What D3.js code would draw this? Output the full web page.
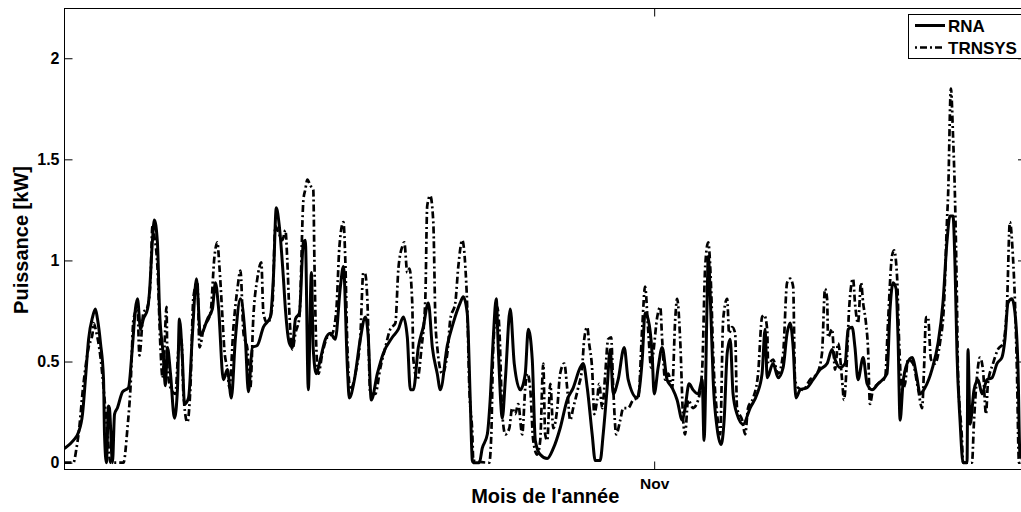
<!DOCTYPE html>
<html><head><meta charset="utf-8">
<script src="https://cdn.jsdelivr.net/npm/d3@7"></script>
<style>body{margin:0;background:#fff;overflow:hidden}</style>
</head><body><svg id="c" width="1021" height="512"></svg>
<script>
// [day since start of record, power in kW]
const rna = [[0,0.07],[0.47,0.11],[0.74,0.15],[0.95,0.24],[1.11,0.42],[1.27,0.61],[1.48,0.72],[1.63,0.76],[1.74,0.71],[1.90,0.59],[2.06,0.41],[2.11,0.14],[2.21,0],[2.32,0.28],[2.37,0.27],[2.53,0],[2.64,0.24],[2.79,0.27],[3.06,0.35],[3.37,0.37],[3.58,0.57],[3.74,0.76],[3.85,0.81],[4.01,0.66],[4.16,0.71],[4.38,0.76],[4.48,0.84],[4.64,1.10],[4.74,1.20],[4.90,1.09],[5.01,0.76],[5.22,0.52],[5.32,0.38],[5.43,0.57],[5.59,0.44],[5.80,0.22],[5.96,0.37],[6.06,0.71],[6.22,0.51],[6.33,0.29],[6.54,0.32],[6.75,0.64],[6.96,0.91],[7.17,0.63],[7.54,0.71],[7.80,0.76],[7.96,0.89],[8.12,0.77],[8.38,0.41],[8.59,0.46],[8.80,0.32],[9.01,0.61],[9.28,0.81],[9.54,0.61],[9.70,0.35],[9.91,0.57],[10.17,0.58],[10.49,0.67],[10.86,0.72],[11.02,0.92],[11.17,1.26],[11.33,1.17],[11.54,0.92],[11.65,0.76],[11.86,0.59],[12.02,0.57],[12.18,0.71],[12.39,0.74],[12.60,1.09],[12.70,1.10],[12.86,0.36],[13.02,0.94],[13.12,0.56],[13.28,0.44],[13.49,0.51],[13.76,0.61],[14.02,0.64],[14.28,0.61],[14.55,0.87],[14.71,0.97],[14.92,0.47],[15.02,0.32],[15.29,0.41],[15.60,0.61],[15.87,0.72],[16.02,0.62],[16.18,0.31],[16.50,0.44],[16.81,0.54],[17.29,0.62],[17.61,0.66],[17.87,0.72],[18.08,0.62],[18.24,0.36],[18.40,0.36],[18.66,0.57],[18.92,0.67],[19.19,0.79],[19.40,0.57],[19.66,0.44],[19.82,0.36],[20.19,0.58],[20.50,0.69],[20.87,0.79],[21.03,0.82],[21.24,0.74],[21.40,0.31],[21.51,0.01],[21.56,0],[21.88,0],[22.03,0.07],[22.30,0.14],[22.45,0.31],[22.61,0.61],[22.77,0.81],[22.88,0.56],[23.09,0.22],[23.25,0.41],[23.51,0.76],[23.72,0.49],[24.04,0.36],[24.30,0.44],[24.46,0.66],[24.67,0.51],[24.83,0.11],[25.09,0.04],[25.46,0.02],[25.78,0.07],[26.14,0.17],[26.51,0.31],[26.83,0.37],[27.20,0.47],[27.36,0.49],[27.57,0.37],[27.83,0.14],[27.99,0.01],[28.25,0.01],[28.41,0.14],[28.62,0.37],[28.78,0.56],[28.94,0.34],[29.20,0.41],[29.52,0.57],[29.73,0.41],[30.20,0.32],[30.47,0.51],[30.62,0.74],[30.78,0.71],[30.99,0.54],[31.10,0.34],[31.31,0.47],[31.52,0.57],[31.78,0.41],[32.05,0.37],[32.31,0.31],[32.58,0.21],[32.73,0.27],[32.94,0.39],[33.15,0.36],[33.42,0.34],[33.63,0.41],[33.73,0.11],[33.89,0.79],[33.95,1.02],[34.10,0.71],[34.21,0.41],[34.42,0.17],[34.63,0.09],[34.79,0.21],[34.95,0.54],[35.11,0.61],[35.26,0.34],[35.47,0.24],[35.79,0.19],[36.16,0.27],[36.53,0.34],[36.79,0.44],[36.95,0.66],[37.06,0.42],[37.37,0.49],[37.64,0.42],[37.90,0.47],[38.11,0.64],[38.27,0.69],[38.43,0.57],[38.58,0.32],[38.80,0.36],[39.16,0.37],[39.48,0.41],[39.85,0.46],[40.22,0.49],[40.48,0.56],[40.64,0.51],[40.90,0.47],[41.17,0.49],[41.33,0.66],[41.54,0.67],[41.69,0.57],[41.85,0.41],[42.12,0.52],[42.33,0.39],[42.59,0.36],[42.91,0.39],[43.38,0.44],[43.54,0.76],[43.70,0.89],[43.86,0.86],[43.96,0.62],[44.07,0.21],[44.22,0.39],[44.44,0.49],[44.70,0.52],[44.96,0.42],[45.12,0.34],[45.38,0.37],[45.75,0.46],[46.07,0.59],[46.33,0.79],[46.54,1.09],[46.70,1.22],[46.86,1.22],[46.97,0.96],[47.07,0.54],[47.23,0.21],[47.39,0],[47.60,0],[47.65,0.56],[47.76,0.19],[47.97,0.36],[48.18,0.41],[48.39,0.34],[48.65,0.41],[48.92,0.42],[49.18,0.49],[49.44,0.52],[49.60,0.61],[49.76,0.79],[49.97,0.81],[50.13,0.74],[50.29,0.46],[50.39,0.04],[50.71,0]];

const trnsys = [[0,0],[0.47,0],[0.63,0.07],[0.74,0.14],[1.00,0.39],[1.27,0.57],[1.48,0.64],[1.53,0.69],[1.69,0.64],[1.90,0.52],[2.06,0.37],[2.27,0.14],[2.42,0],[3.11,0],[3.32,0.17],[3.48,0.37],[3.64,0.71],[3.85,0.76],[3.95,0.53],[4.16,0.74],[4.38,0.77],[4.53,0.89],[4.64,1.17],[4.74,1.12],[4.90,0.97],[5.06,0.57],[5.17,0.42],[5.27,0.57],[5.38,0.77],[5.43,0.47],[5.59,0.37],[5.85,0.34],[6.01,0.56],[6.17,0.61],[6.27,0.34],[6.48,0.20],[6.64,0.37],[6.80,0.82],[7.01,0.89],[7.12,0.57],[7.33,0.66],[7.70,0.74],[7.91,1.02],[8.06,1.09],[8.17,0.97],[8.33,0.72],[8.43,0.56],[8.59,0.46],[8.70,0.37],[8.91,0.67],[9.12,0.86],[9.28,0.95],[9.44,0.64],[9.65,0.56],[9.80,0.37],[9.96,0.72],[10.17,0.91],[10.38,0.99],[10.49,0.74],[10.70,0.69],[10.96,0.77],[11.12,1.17],[11.28,1.14],[11.49,1.10],[11.65,1.15],[11.75,1.00],[11.86,0.74],[12.02,0.56],[12.18,0.64],[12.39,0.72],[12.60,1.30],[12.70,1.35],[12.81,1.40],[12.97,1.37],[13.12,1.35],[13.18,1.00],[13.28,0.57],[13.39,0.44],[13.60,0.54],[13.86,0.62],[14.13,0.64],[14.34,0.76],[14.50,1.07],[14.71,1.19],[14.81,1.00],[14.92,0.57],[15.08,0.36],[15.34,0.44],[15.60,0.62],[15.76,0.94],[15.87,0.93],[15.97,0.81],[16.13,0.34],[16.39,0.34],[16.66,0.47],[16.92,0.57],[17.18,0.66],[17.45,0.69],[17.61,0.96],[17.82,1.07],[17.92,1.09],[18.08,0.94],[18.19,0.96],[18.34,0.79],[18.40,0.51],[18.61,0.41],[18.82,0.56],[19.03,0.81],[19.13,1.27],[19.29,1.32],[19.45,1.19],[19.56,0.71],[19.66,0.57],[19.92,0.44],[20.19,0.54],[20.35,0.71],[20.61,0.79],[20.77,0.97],[20.98,1.10],[21.14,0.97],[21.24,0.77],[21.35,0.37],[21.51,0.14],[21.56,0.01],[22.40,0],[22.51,0.14],[22.61,0.56],[22.82,0.77],[22.93,0.67],[23.09,0.24],[23.25,0.14],[23.46,0.17],[23.61,0.27],[23.77,0.24],[23.93,0.29],[24.14,0.14],[24.30,0.37],[24.41,0.44],[24.56,0.37],[24.72,0.11],[24.93,0.04],[25.09,0.11],[25.25,0.49],[25.35,0.14],[25.46,0.11],[25.62,0.39],[25.78,0.17],[25.99,0.27],[26.14,0.44],[26.36,0.49],[26.51,0.37],[26.67,0.21],[26.83,0.27],[27.09,0.37],[27.30,0.47],[27.41,0.61],[27.57,0.67],[27.67,0.59],[27.83,0.46],[27.94,0.24],[28.09,0.31],[28.20,0.39],[28.36,0.27],[28.52,0.44],[28.67,0.61],[28.83,0.62],[28.94,0.37],[29.10,0.14],[29.31,0.21],[29.47,0.27],[29.73,0.27],[29.99,0.31],[30.26,0.32],[30.47,0.67],[30.62,0.87],[30.78,0.66],[30.94,0.47],[31.05,0.54],[31.26,0.72],[31.42,0.77],[31.52,0.61],[31.68,0.41],[31.84,0.44],[32.05,0.37],[32.21,0.71],[32.31,0.81],[32.47,0.61],[32.63,0.21],[32.73,0.14],[32.89,0.31],[33.15,0.27],[33.42,0.31],[33.63,0.46],[33.79,0.97],[33.95,1.09],[34.10,0.87],[34.21,0.54],[34.42,0.24],[34.58,0.14],[34.74,0.71],[34.95,0.81],[35.05,0.64],[35.21,0.67],[35.37,0.64],[35.47,0.27],[35.74,0.21],[35.90,0.14],[36.05,0.27],[36.32,0.32],[36.58,0.44],[36.79,0.72],[36.90,0.73],[37.06,0.66],[37.11,0.49],[37.37,0.51],[37.64,0.44],[37.90,0.54],[38.11,0.89],[38.27,0.91],[38.43,0.87],[38.53,0.41],[38.69,0.37],[38.95,0.36],[39.32,0.41],[39.69,0.44],[39.95,0.54],[40.11,0.86],[40.22,0.81],[40.27,0.62],[40.48,0.66],[40.64,0.46],[40.80,0.59],[41.01,0.41],[41.11,0.31],[41.27,0.52],[41.38,0.76],[41.59,0.91],[41.69,0.79],[41.85,0.69],[42.01,0.89],[42.12,0.79],[42.27,0.69],[42.38,0.56],[42.48,0.29],[42.64,0.36],[42.91,0.39],[43.28,0.42],[43.43,0.69],[43.64,1.02],[43.75,1.05],[43.91,0.92],[44.01,0.62],[44.17,0.36],[44.33,0.39],[44.49,0.51],[44.75,0.49],[45.01,0.37],[45.23,0.27],[45.33,0.46],[45.44,0.72],[45.54,0.72],[45.70,0.51],[45.91,0.49],[46.17,0.59],[46.39,0.79],[46.54,1.19],[46.60,1.32],[46.75,1.85],[46.86,1.62],[46.97,1.29],[47.07,0.79],[47.12,0.46],[47.33,0.12],[47.39,0],[47.86,0],[47.97,0.21],[48.12,0.42],[48.28,0.52],[48.44,0.46],[48.60,0.24],[48.70,0.39],[48.97,0.49],[49.23,0.56],[49.50,0.59],[49.71,0.79],[49.86,1.19],[50.02,1.02],[50.13,0.79],[50.23,0.46],[50.34,0],[50.71,0]];

const seriesNames = ["RNA", "TRNSYS"];
const yTicks = [0, 0.5, 1, 1.5, 2];
const yTickLabels = ["0", "0.5", "1", "1.5", "2"];
const monthTicks = [31.1];
const monthLabels = ["Nov"];

const svg = d3.select("#c");
const L = 64.5, R = 1026, T = 8.5, B = 469.5;
const x = d3.scaleLinear().domain([0, 50.71]).range([L, R]);
const y = d3.scaleLinear().domain([-0.034, 2.246]).range([B, T]);
const font = "'Liberation Sans', Arial, Helvetica, sans-serif";

svg.append("rect").attr("width", 1021).attr("height", 512).attr("fill", "#fff");

svg.append("defs").append("clipPath").attr("id", "clip")
  .append("rect").attr("x", L).attr("y", T).attr("width", R - L).attr("height", B - T);

const line = d3.line().x(d => x(d[0])).y(d => y(d[1])).curve(d3.curveMonotoneX);
const g = svg.append("g").attr("clip-path", "url(#clip)");
g.append("path").datum(rna).attr("d", line).attr("fill", "none")
  .attr("stroke", "#000").attr("stroke-width", 3).attr("stroke-linejoin", "round");
g.append("path").datum(trnsys).attr("d", line).attr("fill", "none")
  .attr("stroke", "#000").attr("stroke-width", 2.7)
  .attr("stroke-dasharray", "7,3,2,3");

// frame
svg.append("rect").attr("x", L).attr("y", T).attr("width", R - L).attr("height", B - T)
  .attr("fill", "none").attr("stroke", "#000").attr("stroke-width", 1);

// axes
const yl = svg.append("g").attr("transform", `translate(${L},0)`)
  .call(d3.axisLeft(y).tickValues(yTicks).tickFormat((d, i) => yTickLabels[i])
    .tickSizeInner(-8).tickSizeOuter(0).tickPadding(5));
const yr = svg.append("g").attr("transform", `translate(${R},0)`)
  .call(d3.axisRight(y).tickValues(yTicks).tickFormat("").tickSizeInner(-8).tickSizeOuter(0));
const xb = svg.append("g").attr("transform", `translate(0,${B})`)
  .call(d3.axisBottom(x).tickValues(monthTicks).tickFormat((d, i) => monthLabels[i])
    .tickSizeInner(-8).tickSizeOuter(0).tickPadding(8));
const xt = svg.append("g").attr("transform", `translate(0,${T})`)
  .call(d3.axisTop(x).tickValues(monthTicks).tickFormat("").tickSizeInner(-8).tickSizeOuter(0));
[yl, yr, xb, xt].forEach(a => {
  a.select(".domain").remove();
  a.selectAll("line").attr("stroke", "#000");
  a.selectAll("text").attr("fill", "#000").style("font-family", font)
    .style("font-weight", "bold").style("font-size", "16px");
});
xb.selectAll("text").style("font-size", "15.5px");

// axis titles
svg.append("text").attr("transform", "translate(28,240) rotate(-90)")
  .attr("text-anchor", "middle").style("font-family", font).style("font-weight", "bold")
  .style("font-size", "20px").text("Puissance [kW]");
svg.append("text").attr("x", (L + R) / 2).attr("y", 503)
  .attr("text-anchor", "middle").style("font-family", font).style("font-weight", "bold")
  .style("font-size", "20px").text("Mois de l'année");

// legend
const lg = svg.append("g");
lg.append("rect").attr("x", 908.5).attr("y", 14.5).attr("width", 130).attr("height", 44)
  .attr("fill", "#fff").attr("stroke", "#000").attr("stroke-width", 1);
const legY = [25.5, 47.5];
seriesNames.forEach((name, i) => {
  lg.append("line").attr("x1", 915).attr("x2", 945).attr("y1", legY[i]).attr("y2", legY[i])
    .attr("stroke", "#000").attr("stroke-width", i === 0 ? 3 : 2.7)
    .attr("stroke-dasharray", i === 0 ? null : "2,3,7,3");
  lg.append("text").attr("x", 948).attr("y", legY[i]).attr("dy", "0.36em")
    .style("font-family", font).style("font-weight", "bold").style("font-size", "17px")
    .text(name);
});
</script></body></html>
